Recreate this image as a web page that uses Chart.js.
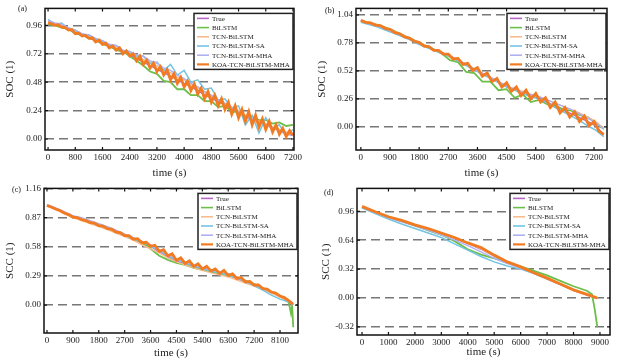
<!DOCTYPE html>
<html>
<head>
<meta charset="utf-8">
<script src="https://cdn.jsdelivr.net/npm/chart.js@4.4.1/dist/chart.umd.min.js"></script>
<style>
  html, body { margin: 0; padding: 0; background: #fff; }
  .panel { position: absolute; }
</style>
</head>
<body>
<div class="panel" style="left:0;top:0"><canvas id="cA" width="312" height="180"></canvas></div>
<div class="panel" style="left:312px;top:0"><canvas id="cB" width="313" height="180"></canvas></div>
<div class="panel" style="left:0;top:180px"><canvas id="cC" width="312" height="183"></canvas></div>
<div class="panel" style="left:312px;top:180px"><canvas id="cD" width="313" height="183"></canvas></div>
<script>
'use strict';

// ---- data ----
const seriesNames = ['True', 'BiLSTM', 'TCN-BiLSTM', 'TCN-BiLSTM-SA', 'TCN-BiLSTM-MHA', 'KOA-TCN-BiLSTM-MHA'];

// (a)
const timeA = [0, 200, 400, 600, 800, 1000, 1200, 1400, 1600, 1800, 2000, 2200, 2400, 2600, 2800, 3000, 3200, 3400, 3600, 3800,
  4000, 4200, 4400, 4600, 4800, 5000, 5200, 5400, 5600, 5800, 6000, 6200, 6400, 6600, 6800, 7000, 7200];
const trueA = [0.98, 0.965, 0.95, 0.925, 0.895, 0.875, 0.855, 0.83, 0.805, 0.78, 0.76, 0.735, 0.71, 0.68, 0.65, 0.62, 0.59, 0.56, 0.53, 0.50,
  0.47, 0.44, 0.41, 0.375, 0.345, 0.315, 0.285, 0.25, 0.22, 0.19, 0.165, 0.14, 0.12, 0.095, 0.07, 0.05, 0.03];
const bilstmA = [0.97, 0.96, 0.94, 0.93, 0.89, 0.88, 0.85, 0.84, 0.80, 0.79, 0.75, 0.74, 0.70, 0.66, 0.62, 0.57, 0.55, 0.49, 0.48, 0.42,
  0.42, 0.37, 0.37, 0.32, 0.32, 0.27, 0.28, 0.23, 0.23, 0.18, 0.19, 0.16, 0.16, 0.13, 0.14, 0.11, 0.12];
const tcnA = [0.99, 0.97, 0.96, 0.93, 0.91, 0.88, 0.87, 0.84, 0.82, 0.79, 0.78, 0.74, 0.73, 0.70, 0.67, 0.64, 0.62, 0.58, 0.56, 0.52,
  0.50, 0.46, 0.43, 0.40, 0.36, 0.33, 0.30, 0.27, 0.24, 0.20, 0.18, 0.15, 0.13, 0.10, 0.08, 0.06, 0.04];
const saA = [1.01, 0.97, 0.98, 0.93, 0.92, 0.88, 0.88, 0.84, 0.83, 0.79, 0.79, 0.74, 0.74, 0.70, 0.70, 0.64, 0.65, 0.58, 0.63, 0.54,
  0.58, 0.48, 0.50, 0.42, 0.43, 0.33, 0.34, 0.26, 0.28, 0.12, 0.20, 0.05, 0.18, 0.09, 0.12, 0.03, 0.08];
const mhaA = [1.00, 0.98, 0.97, 0.94, 0.92, 0.89, 0.88, 0.85, 0.83, 0.80, 0.79, 0.75, 0.74, 0.71, 0.70, 0.66, 0.64, 0.60, 0.58, 0.54,
  0.51, 0.47, 0.44, 0.40, 0.37, 0.33, 0.30, 0.26, 0.23, 0.20, 0.17, 0.14, 0.12, 0.09, 0.07, 0.04, 0.03];
const timeKoaA = [0, 100, 200, 300, 400, 500, 600, 700, 800, 900, 1000, 1100, 1200, 1300, 1400, 1500, 1600, 1700, 1800, 1900,
  2000, 2100, 2200, 2300, 2400, 2500, 2600, 2700, 2800, 2900, 3000, 3100, 3200, 3300, 3400, 3500, 3600, 3700, 3800, 3900,
  4000, 4100, 4200, 4300, 4400, 4500, 4600, 4700, 4800, 4900, 5000, 5100, 5200, 5300, 5400, 5500, 5600, 5700, 5800, 5900,
  6000, 6100, 6200, 6300, 6400, 6500, 6600, 6700, 6800, 6900, 7000, 7100, 7200];
const koaA = [0.98, 0.975, 0.96, 0.965, 0.945, 0.94, 0.92, 0.925, 0.89, 0.895, 0.87, 0.875, 0.85, 0.855, 0.82, 0.835, 0.80, 0.81, 0.77, 0.785,
  0.75, 0.77, 0.72, 0.745, 0.70, 0.72, 0.66, 0.70, 0.63, 0.665, 0.60, 0.64, 0.57, 0.61, 0.54, 0.585, 0.50, 0.55, 0.47, 0.52,
  0.44, 0.49, 0.41, 0.465, 0.38, 0.43, 0.34, 0.40, 0.31, 0.37, 0.28, 0.34, 0.25, 0.31, 0.21, 0.28, 0.18, 0.25, 0.15, 0.23,
  0.12, 0.20, 0.10, 0.17, 0.08, 0.15, 0.06, 0.12, 0.04, 0.09, 0.02, 0.07, 0.03];
const xTicksA = [0, 800, 1600, 2400, 3200, 4000, 4800, 5600, 6400, 7200];
const yTicksA = [0, 0.24, 0.48, 0.72, 0.96];

// (b)
const timeB = [0, 250, 500, 750, 1000, 1250, 1500, 1750, 2000, 2250, 2500, 2750, 3000, 3250, 3500, 3750, 4000, 4250, 4500, 4750,
  5000, 5250, 5500, 5750, 6000, 6250, 6500, 6750, 7000, 7250, 7500];
const trueB = [0.99, 0.965, 0.945, 0.92, 0.89, 0.855, 0.82, 0.785, 0.75, 0.72, 0.69, 0.66, 0.62, 0.58, 0.535, 0.495, 0.455, 0.415, 0.375, 0.345,
  0.32, 0.29, 0.265, 0.23, 0.19, 0.155, 0.12, 0.085, 0.05, 0.01, -0.07];
const bilstmB = [0.98, 0.965, 0.95, 0.925, 0.895, 0.86, 0.825, 0.79, 0.755, 0.72, 0.68, 0.62, 0.60, 0.51, 0.50, 0.42, 0.42, 0.34, 0.35, 0.27,
  0.30, 0.23, 0.25, 0.21, 0.20, 0.16, 0.15, 0.11, 0.09, 0.04, -0.02];
const tcnB = [0.985, 0.97, 0.95, 0.92, 0.89, 0.86, 0.825, 0.79, 0.755, 0.72, 0.69, 0.66, 0.62, 0.58, 0.54, 0.50, 0.46, 0.42, 0.38, 0.35,
  0.33, 0.30, 0.28, 0.25, 0.22, 0.19, 0.16, 0.13, 0.09, 0.05, -0.01];
const saB = [0.97, 0.95, 0.93, 0.90, 0.87, 0.84, 0.81, 0.77, 0.74, 0.71, 0.68, 0.65, 0.61, 0.57, 0.53, 0.49, 0.45, 0.41, 0.37, 0.34,
  0.31, 0.28, 0.26, 0.22, 0.18, 0.14, 0.10, 0.06, 0.01, -0.03, -0.09];
const mhaB = [0.98, 0.96, 0.94, 0.91, 0.88, 0.85, 0.82, 0.78, 0.75, 0.72, 0.69, 0.66, 0.62, 0.58, 0.54, 0.50, 0.46, 0.42, 0.38, 0.35,
  0.32, 0.30, 0.28, 0.25, 0.22, 0.19, 0.16, 0.12, 0.08, 0.04, -0.02];
const timeKoaB = [0, 150, 300, 450, 600, 750, 900, 1050, 1200, 1350, 1500, 1650, 1800, 1950, 2100, 2250, 2400, 2550, 2700, 2850,
  3000, 3150, 3300, 3450, 3600, 3750, 3900, 4050, 4200, 4350, 4500, 4650, 4800, 4950, 5100, 5250, 5400, 5550, 5700, 5850,
  6000, 6150, 6300, 6450, 6600, 6750, 6900, 7050, 7200, 7350, 7500];
const koaB = [0.99, 0.97, 0.965, 0.945, 0.94, 0.915, 0.905, 0.875, 0.865, 0.835, 0.825, 0.795, 0.785, 0.75, 0.745, 0.71, 0.71, 0.675, 0.675, 0.63,
  0.635, 0.58, 0.59, 0.525, 0.55, 0.47, 0.50, 0.42, 0.45, 0.37, 0.41, 0.33, 0.37, 0.29, 0.34, 0.26, 0.31, 0.23, 0.27, 0.18,
  0.23, 0.13, 0.18, 0.09, 0.14, 0.05, 0.10, 0.01, 0.05, -0.04, -0.07];
const xTicksB = [0, 900, 1800, 2700, 3600, 4500, 5400, 6300, 7200];
const yTicksB = [0, 0.26, 0.52, 0.78, 1.04];

// (c)
const timeC = [0, 300, 600, 900, 1200, 1500, 1800, 2100, 2400, 2700, 3000, 3300, 3600, 3900, 4200, 4500, 4800, 5100, 5400, 5700,
  6000, 6300, 6600, 6900, 7200, 7500, 7800, 8100, 8400, 8480, 8520, 8560];
const trueC = [0.99, 0.955, 0.915, 0.875, 0.85, 0.82, 0.79, 0.76, 0.725, 0.69, 0.655, 0.62, 0.585, 0.53, 0.48, 0.44, 0.41, 0.38, 0.355, 0.335,
  0.315, 0.295, 0.265, 0.23, 0.20, 0.165, 0.13, 0.09, 0.045, 0.03, 0.02, 0.005];
const bilstmC = [0.99, 0.955, 0.915, 0.875, 0.85, 0.82, 0.79, 0.76, 0.725, 0.69, 0.655, 0.62, 0.56, 0.49, 0.45, 0.42, 0.40, 0.37, 0.35, 0.33,
  0.31, 0.295, 0.275, 0.245, 0.21, 0.17, 0.13, 0.09, 0.03, -0.08, 0.0, -0.22];
const tcnC = [0.985, 0.95, 0.91, 0.87, 0.84, 0.81, 0.78, 0.75, 0.715, 0.68, 0.645, 0.60, 0.56, 0.52, 0.47, 0.43, 0.40, 0.37, 0.345, 0.32,
  0.30, 0.28, 0.25, 0.22, 0.19, 0.155, 0.12, 0.08, 0.04, 0.025, 0.015, 0.0];
const saC = [0.99, 0.96, 0.92, 0.88, 0.855, 0.825, 0.795, 0.765, 0.73, 0.695, 0.66, 0.625, 0.59, 0.54, 0.49, 0.45, 0.42, 0.39, 0.36, 0.34,
  0.32, 0.30, 0.27, 0.235, 0.195, 0.15, 0.10, 0.06, 0.03, 0.02, 0.01, 0.0];
const mhaC = [1.0, 0.965, 0.93, 0.89, 0.87, 0.84, 0.81, 0.78, 0.745, 0.705, 0.67, 0.635, 0.60, 0.55, 0.50, 0.46, 0.43, 0.40, 0.37, 0.35,
  0.33, 0.31, 0.28, 0.24, 0.205, 0.17, 0.135, 0.095, 0.05, 0.03, 0.02, 0.005];
const timeKoaC = [0, 150, 300, 450, 600, 750, 900, 1050, 1200, 1350, 1500, 1650, 1800, 1950, 2100, 2250, 2400, 2550, 2700, 2850,
  3000, 3150, 3300, 3450, 3600, 3750, 3900, 4050, 4200, 4350, 4500, 4650, 4800, 4950, 5100, 5250, 5400, 5550, 5700, 5850,
  6000, 6150, 6300, 6450, 6600, 6750, 6900, 7050, 7200, 7350, 7500, 7650, 7800, 7950, 8100, 8250, 8400, 8550];
const koaC = [0.99, 0.975, 0.955, 0.94, 0.915, 0.90, 0.875, 0.87, 0.85, 0.84, 0.82, 0.815, 0.79, 0.785, 0.76, 0.755, 0.725, 0.72, 0.69, 0.69,
  0.655, 0.66, 0.62, 0.625, 0.585, 0.595, 0.535, 0.55, 0.49, 0.51, 0.445, 0.47, 0.415, 0.44, 0.385, 0.41, 0.36, 0.385, 0.34, 0.36,
  0.315, 0.345, 0.295, 0.31, 0.265, 0.275, 0.23, 0.235, 0.20, 0.20, 0.165, 0.16, 0.13, 0.12, 0.09, 0.075, 0.045, 0.01];
const xTicksC = [0, 900, 1800, 2700, 3600, 4500, 5400, 6300, 7200, 8100];
const yTicksC = [0, 0.29, 0.58, 0.87, 1.16];

// (d)
const timeD = [0, 500, 1000, 1500, 2000, 2500, 3000, 3500, 4000, 4500, 5000, 5500, 6000, 6500, 7000, 7500, 8000, 8500, 8700, 8800, 8900];
const trueD = [1.0, 0.945, 0.895, 0.85, 0.805, 0.76, 0.715, 0.66, 0.605, 0.54, 0.465, 0.395, 0.335, 0.275, 0.215, 0.15, 0.085, 0.035, 0.015, 0.005, -0.005];
const bilstmD = [1.0, 0.945, 0.895, 0.85, 0.80, 0.75, 0.70, 0.63, 0.54, 0.48, 0.44, 0.39, 0.35, 0.30, 0.25, 0.19, 0.13, 0.08, 0.04, -0.12, -0.32];
const tcnD = [1.01, 0.95, 0.90, 0.855, 0.81, 0.765, 0.72, 0.665, 0.61, 0.545, 0.47, 0.40, 0.34, 0.28, 0.22, 0.155, 0.09, 0.04, 0.02, 0.01, 0.0];
const saD = [1.0, 0.935, 0.875, 0.82, 0.77, 0.72, 0.67, 0.60, 0.53, 0.46, 0.40, 0.355, 0.32, 0.27, 0.21, 0.15, 0.09, 0.04, 0.02, 0.01, 0.0];
const mhaD = [1.005, 0.945, 0.89, 0.845, 0.80, 0.75, 0.70, 0.64, 0.58, 0.51, 0.44, 0.38, 0.33, 0.275, 0.215, 0.15, 0.085, 0.035, 0.015, 0.005, 0.0];
const koaD = [1.015, 0.955, 0.90, 0.86, 0.81, 0.77, 0.72, 0.67, 0.61, 0.56, 0.475, 0.40, 0.345, 0.28, 0.22, 0.155, 0.09, 0.04, 0.02, 0.01, 0.0];
const xTicksD = [0, 1000, 2000, 3000, 4000, 5000, 6000, 7000, 8000, 9000];
const yTicksD = [-0.32, 0, 0.32, 0.64, 0.96];

// ---- styling ----
const SERIF = "'Liberation Serif', 'DejaVu Serif', serif";
const seriesColors = ['#b766c6', '#6cbf48', '#f8bc8e', '#72c4e2', '#aeb0f2', '#f27b22'];
const seriesWidths = [1.4, 1.8, 1.4, 1.5, 1.4, 2.8];

// frame, inward tick marks, panel tag and the boxed legend
function decorPlugin(tag, tagX, tagY) {
  return {
    id: 'decor',
    afterDatasetsDraw(chart) {
      const { ctx, chartArea: a, scales } = chart;
      ctx.save();
      ctx.strokeStyle = '#111';
      ctx.lineWidth = 1.5;
      ctx.strokeRect(a.left, a.top, a.right - a.left, a.bottom - a.top);
      ctx.lineWidth = 1.2;
      ctx.beginPath();
      scales.x.ticks.forEach(t => {
        const px = scales.x.getPixelForValue(t.value);
        ctx.moveTo(px, a.bottom); ctx.lineTo(px, a.bottom - 3);
        ctx.moveTo(px, a.top); ctx.lineTo(px, a.top + 3);
      });
      scales.y.ticks.forEach(t => {
        const py = scales.y.getPixelForValue(t.value);
        ctx.moveTo(a.left, py); ctx.lineTo(a.left + 3, py);
        ctx.moveTo(a.right, py); ctx.lineTo(a.right - 3, py);
      });
      ctx.stroke();
      ctx.restore();
    },
    afterDraw(chart) {
      const { ctx, chartArea: a } = chart;
      ctx.save();
      ctx.font = '8px ' + SERIF;
      ctx.fillStyle = '#111';
      ctx.textBaseline = 'middle';
      ctx.fillText(tag, tagX, tagY);

      const w = 99, h = 56;
      const bx = a.right - w - 1, by = a.top + 5;
      ctx.fillStyle = '#fff';
      ctx.fillRect(bx, by, w, h);
      ctx.strokeStyle = '#222';
      ctx.lineWidth = 1.5;
      ctx.strokeRect(bx, by, w, h);
      ctx.font = '7px ' + SERIF;
      seriesNames.forEach((name, i) => {
        const ry = by + 5 + i * 9.2;
        ctx.strokeStyle = seriesColors[i];
        ctx.lineWidth = i === 5 ? 2.2 : 1.6;
        ctx.beginPath();
        ctx.moveTo(bx + 3, ry); ctx.lineTo(bx + 15, ry);
        ctx.stroke();
        ctx.fillStyle = '#222';
        ctx.fillText(name, bx + 18, ry + 0.5);
      });
      ctx.restore();
    }
  };
}

function makePanel(id, p) {
  const datasets = p.series.map(([ts, ys], i) => ({
    label: seriesNames[i],
    data: ts.map((t, k) => ({ x: t, y: ys[k] })),
    borderColor: seriesColors[i],
    borderWidth: seriesWidths[i],
    order: 5 - i,
    pointRadius: 0,
    tension: 0,
    fill: false,
  }));

  new Chart(document.getElementById(id), {
    type: 'line',
    data: { datasets },
    options: {
      responsive: false,
      animation: false,
      layout: { padding: { top: p.padTop, right: p.padRight, bottom: 0, left: 0 } },
      plugins: { legend: { display: false }, tooltip: { enabled: false } },
      scales: {
        x: {
          type: 'linear', min: p.xMin, max: p.xMax,
          afterBuildTicks: s => { s.ticks = p.xTicks.map(v => ({ value: v })); },
          afterFit: s => { s.height = p.xHeight; },
          grid: { display: false, drawTicks: false },
          border: { display: false },
          ticks: { autoSkip: false, maxRotation: 0, padding: 2, color: '#222', font: { family: SERIF, size: 9 }, callback: v => String(v) },
          title: { display: true, text: 'time (s)', color: '#222', font: { family: SERIF, size: 11 }, padding: { top: 0, bottom: p.xTitlePad } },
        },
        y: {
          type: 'linear', min: p.yMin, max: p.yMax,
          afterBuildTicks: s => { s.ticks = p.yTicks.map(v => ({ value: v })); },
          afterFit: s => { s.width = p.yWidth; },
          grid: { color: '#777', lineWidth: 1.6, drawTicks: false },
          border: { display: false, dash: [9, 5] },
          ticks: { autoSkip: false, padding: 3, color: '#222', font: { family: SERIF, size: 9 }, callback: v => v.toFixed(2) },
          title: { display: true, text: p.yTitle, color: '#222', font: { family: SERIF, size: 11 }, padding: { top: p.yTitlePad, bottom: 0 } },
        },
      },
    },
    plugins: [decorPlugin(p.tag, p.tagX, p.tagY)],
  });
}

makePanel('cA', {
  series: [[timeA, trueA], [timeA, bilstmA], [timeA, tcnA], [timeA, saA], [timeA, mhaA], [timeKoaA, koaA]],
  xTicks: xTicksA, yTicks: yTicksA, xMin: -90, xMax: 7230, yMin: -0.093, yMax: 1.103,
  padTop: 8, padRight: 18, yWidth: 45, xHeight: 30, xTitlePad: 0.5, yTitlePad: 3.5,
  yTitle: 'SOC (1)', tag: '(a)', tagX: 18, tagY: 9,
});
makePanel('cB', {
  series: [[timeB, trueB], [timeB, bilstmB], [timeB, tcnB], [timeB, saB], [timeB, mhaB], [timeKoaB, koaB]],
  xTicks: xTicksB, yTicks: yTicksB, xMin: -150, xMax: 7600, yMin: -0.215, yMax: 1.10,
  padTop: 6, padRight: 18, yWidth: 44, xHeight: 30, xTitlePad: 0.5, yTitlePad: 3.5,
  yTitle: 'SOC (1)', tag: '(b)', tagX: 13, tagY: 11,
});
makePanel('cC', {
  series: [[timeC, trueC], [timeC, bilstmC], [timeC, tcnC], [timeC, saC], [timeC, mhaC], [timeKoaC, koaC]],
  xTicks: xTicksC, yTicks: yTicksC, xMin: -104, xMax: 8725, yMin: -0.277, yMax: 1.16,
  padTop: 8, padRight: 14, yWidth: 44, xHeight: 30, xTitlePad: 3, yTitlePad: 3.5,
  yTitle: 'SCC (1)', tag: '(c)', tagX: 12, tagY: 10,
});
makePanel('cD', {
  series: [[timeD, trueD], [timeD, bilstmD], [timeD, tcnD], [timeD, saD], [timeD, mhaD], [timeD, koaD]],
  xTicks: xTicksD, yTicks: yTicksD, xMin: -190, xMax: 9380, yMin: -0.41, yMax: 1.214,
  padTop: 8, padRight: 15, yWidth: 45, xHeight: 28, xTitlePad: 4, yTitlePad: 8,
  yTitle: 'SCC (1)', tag: '(d)', tagX: 12, tagY: 13,
});
</script>
</body>
</html>
